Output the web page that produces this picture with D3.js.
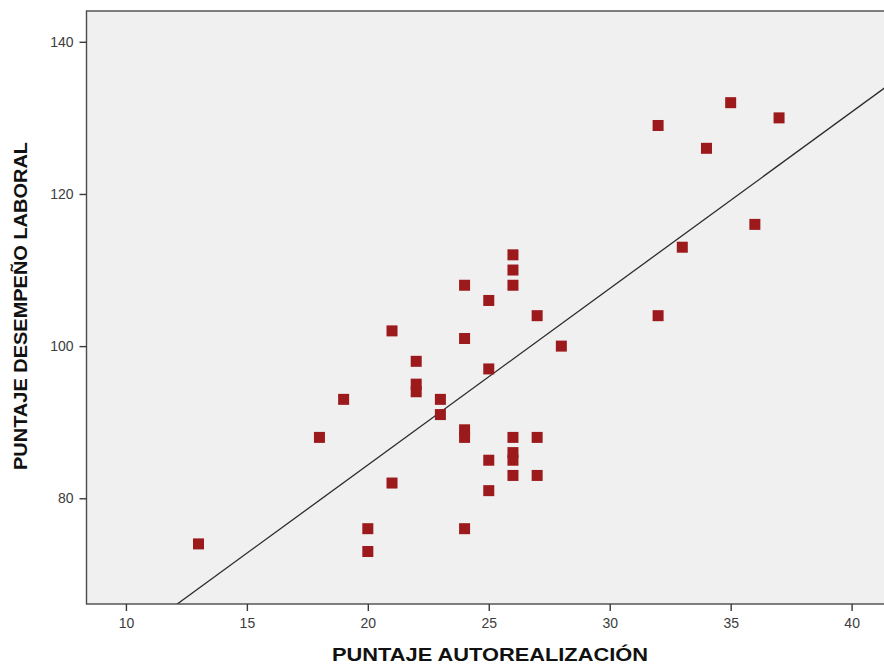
<!DOCTYPE html>
<html>
<head>
<meta charset="utf-8">
<script src="https://cdn.jsdelivr.net/npm/d3@7"></script>
<style>
  body { margin: 0; background: #fff; }
  svg text { font-family: Arial, "Liberation Sans", sans-serif; }
</style>
</head>
<body>
<div id="scatter"></div>
<script>
// chart width and height
var w = 884;
var h = 664;

// puntajes (one entry per person)
var autorealizacion = [13, 18, 19, 20, 20, 21, 21, 22, 22, 22, 23, 23,
    24, 24, 24, 24, 24, 25, 25, 25, 25, 26, 26, 26, 26, 26, 26, 26,
    27, 27, 27, 28, 32, 32, 33, 34, 35, 36, 37];
var desempeno = [74, 88, 93, 76, 73, 102, 82, 98, 95, 94, 93, 91,
    108, 101, 89, 88, 76, 106, 97, 85, 81, 112, 110, 108, 88, 86, 85, 83,
    104, 88, 83, 100, 129, 104, 113, 126, 132, 116, 130];

var xTicks = [10, 15, 20, 25, 30, 35, 40];
var yTicks = [80, 100, 120, 140];

var xTitle = "PUNTAJE AUTOREALIZACIÓN";
var yTitle = "PUNTAJE DESEMPEÑO LABORAL";

var data = autorealizacion.map(function(d, i) {
    return { x: d, y: desempeno[i] };
});

// plot frame (right side runs past the window like in the original)
var pLeft = 86.5, pRight = 900, pTop = 11, pBottom = 604;

var xScale = d3.scaleLinear()
    .domain([8.37, 42])
    .range([pLeft, pRight]);

var yScale = d3.scaleLinear()
    .domain([66.1, 144.05])
    .range([pBottom, pTop]);

// least squares fit line
var mx = d3.mean(data, function(d) { return d.x; });
var my = d3.mean(data, function(d) { return d.y; });
var sxy = d3.sum(data, function(d) { return (d.x - mx) * (d.y - my); });
var sxx = d3.sum(data, function(d) { return (d.x - mx) * (d.x - mx); });
var slope = sxy / sxx;
var intercept = my - slope * mx;

var svg = d3.select("#scatter")
    .append("svg")
    .attr("width", w)
    .attr("height", h);

svg.append("defs").append("clipPath")
    .attr("id", "plotclip")
    .append("rect")
    .attr("x", pLeft)
    .attr("y", pTop)
    .attr("width", pRight - pLeft)
    .attr("height", pBottom - pTop);

// background
svg.append("rect")
    .attr("x", pLeft)
    .attr("y", pTop)
    .attr("width", pRight - pLeft)
    .attr("height", pBottom - pTop)
    .attr("fill", "#f0f0f0");

// fit line
var xd = xScale.domain();
svg.append("line")
    .attr("clip-path", "url(#plotclip)")
    .attr("x1", xScale(xd[0]))
    .attr("y1", yScale(intercept + slope * xd[0]))
    .attr("x2", xScale(xd[1]))
    .attr("y2", yScale(intercept + slope * xd[1]))
    .attr("stroke", "#2b2b2b")
    .attr("stroke-width", 1.3);

// squares
var s = 11;
svg.selectAll("rect.pt")
    .data(data)
    .enter()
    .append("rect")
    .attr("class", "pt")
    .attr("x", function(d) { return xScale(d.x) - s / 2; })
    .attr("y", function(d) { return yScale(d.y) - s / 2; })
    .attr("width", s)
    .attr("height", s)
    .attr("fill", "#9c1a1c");

// frame
svg.append("rect")
    .attr("x", pLeft)
    .attr("y", pTop)
    .attr("width", pRight - pLeft)
    .attr("height", pBottom - pTop)
    .attr("fill", "none")
    .attr("stroke", "#4a4a4a")
    .attr("stroke-width", 1.4);

// axes
var xAxis = d3.axisBottom(xScale)
    .tickValues(xTicks)
    .tickSize(7)
    .tickPadding(7);

var yAxis = d3.axisLeft(yScale)
    .tickValues(yTicks)
    .tickSize(7)
    .tickPadding(6);

var gx = svg.append("g")
    .attr("transform", "translate(0," + pBottom + ")")
    .call(xAxis);

var gy = svg.append("g")
    .attr("transform", "translate(" + pLeft + ",0)")
    .call(yAxis);

[gx, gy].forEach(function(g) {
    g.select(".domain").remove();
    g.selectAll(".tick line").attr("stroke", "#3a3a3a").attr("stroke-width", 1.4);
    g.selectAll(".tick text")
        .attr("fill", "#3c3c3c")
        .style("font-size", "14px");
});

// titles
svg.append("text")
    .attr("x", 490)
    .attr("y", 661)
    .attr("text-anchor", "middle")
    .attr("textLength", 316)
    .attr("lengthAdjust", "spacingAndGlyphs")
    .style("font-size", "19px")
    .style("font-weight", "bold")
    .attr("fill", "#111")
    .text(xTitle);

svg.append("text")
    .attr("transform", "translate(27,306) rotate(-90)")
    .attr("text-anchor", "middle")
    .attr("textLength", 328)
    .attr("lengthAdjust", "spacingAndGlyphs")
    .style("font-size", "19px")
    .style("font-weight", "bold")
    .attr("fill", "#111")
    .text(yTitle);
</script>
</body>
</html>
